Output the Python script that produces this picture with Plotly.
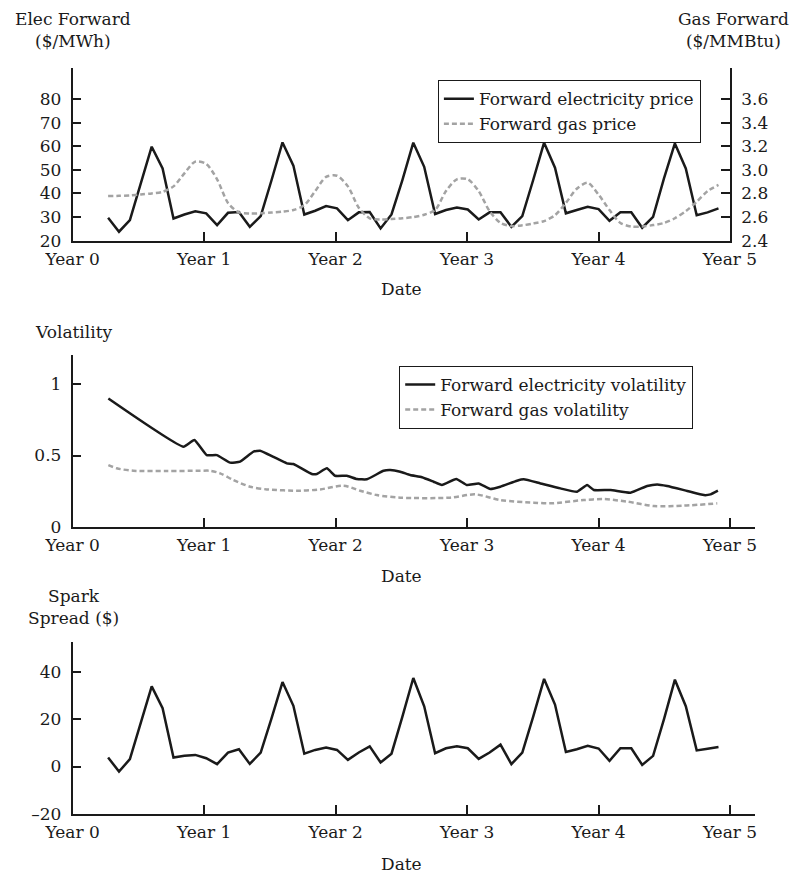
import plotly.graph_objects as go

# * monthly forward curve (years after Year 0)
t0 = 0.27
step = 0.0829
n_months = 57

elec_price = [29.7, 23.8, 28.7, 44.0, 59.8, 50.6, 29.4, 31.1, 32.5, 31.6,
              26.6, 31.8, 32.1, 25.9, 30.4, 45.7, 61.6, 51.8, 31.1, 32.7,
              34.7, 33.7, 28.7, 32.0, 32.1, 25.2, 31.1, 45.7, 61.5, 51.3,
              31.3, 33.0, 34.0, 33.2, 29.0, 32.0, 32.0, 25.9, 30.4, 45.7,
              61.5, 50.9, 31.6, 33.0, 34.4, 33.4, 28.4, 32.0, 32.0, 25.5,
              30.1, 46.4, 61.2, 50.6, 30.8, 32.0, 33.7]

gas_price = [2.778, 2.780, 2.784, 2.792, 2.800, 2.814, 2.860, 2.970, 3.070, 3.050,
             2.920, 2.720, 2.640, 2.630, 2.632, 2.638, 2.646, 2.660, 2.700, 2.820,
             2.940, 2.950, 2.860, 2.680, 2.590, 2.580, 2.584, 2.590, 2.600, 2.620,
             2.660, 2.820, 2.920, 2.920, 2.820, 2.650, 2.550, 2.524, 2.530, 2.546,
             2.566, 2.616, 2.720, 2.840, 2.890, 2.790, 2.660, 2.550, 2.520, 2.520,
             2.532, 2.550, 2.590, 2.650, 2.730, 2.820, 2.872]

spark_spread = [3.8, -2.1, 3.1, 18.0, 33.8, 24.6, 3.8, 4.5, 4.9, 3.5,
                1.0, 5.9, 7.3, 1.1, 5.9, 20.4, 35.6, 25.6, 5.4, 7.0,
                8.0, 7.0, 2.8, 5.9, 8.5, 1.7, 5.4, 21.0, 37.3, 25.4,
                5.6, 7.7, 8.5, 7.7, 3.2, 5.9, 9.2, 1.0, 5.9, 21.0,
                36.9, 26.1, 6.1, 7.3, 8.7, 7.6, 2.4, 7.7, 7.7, 0.7,
                4.5, 20.0, 36.6, 25.4, 6.8, 7.5, 8.2]

# * volatility term structures
elec_vol_t = [0.272, 0.843, 0.926, 1.020, 1.097, 1.198, 1.274, 1.376, 1.426, 1.528,
              1.629, 1.680, 1.819, 1.857, 1.934, 1.997, 2.086, 2.162, 2.238, 2.365,
              2.416, 2.492, 2.568, 2.657, 2.745, 2.809, 2.918, 2.999, 3.088, 3.177,
              3.253, 3.380, 3.431, 3.558, 3.710, 3.837, 3.913, 3.964, 4.091, 4.243,
              4.370, 4.446, 4.522, 4.675, 4.802, 4.852, 4.908]
elec_vol = [0.900, 0.562, 0.609, 0.503, 0.503, 0.450, 0.457, 0.527, 0.534, 0.490,
            0.445, 0.440, 0.370, 0.370, 0.410, 0.358, 0.358, 0.335, 0.333, 0.393,
            0.398, 0.386, 0.363, 0.347, 0.316, 0.293, 0.335, 0.293, 0.304, 0.265,
            0.281, 0.323, 0.333, 0.304, 0.269, 0.246, 0.293, 0.258, 0.258, 0.239,
            0.286, 0.297, 0.286, 0.251, 0.222, 0.227, 0.253]

gas_vol_t = [0.272, 0.336, 0.462, 0.716, 0.969, 1.046, 1.122, 1.223, 1.350, 1.477,
             1.730, 1.883, 2.060, 2.187, 2.314, 2.492, 2.872, 3.063, 3.253, 3.507,
             3.634, 3.887, 4.040, 4.218, 4.421, 4.649, 4.903]
gas_vol = [0.433, 0.410, 0.393, 0.391, 0.393, 0.393, 0.375, 0.328, 0.281, 0.262,
           0.253, 0.262, 0.288, 0.253, 0.222, 0.204, 0.204, 0.227, 0.187, 0.169,
           0.164, 0.187, 0.194, 0.176, 0.145, 0.148, 0.164]

year_vals = [0, 1, 2, 3, 4, 5]
year_text = ["Year 0", "Year 1", "Year 2", "Year 3", "Year 4", "Year 5"]

t = [t0 + m * step for m in range(n_months)]

FONT = "DejaVu Serif"
FS = 17
# * page body has an 8px margin, so the figure is shifted by OFF
OFF = 8
W, H = 791, 868
BLACK = "#1a1a1a"
GREY = "#a3a3a3"


def px_x(p):
    return (p - OFF) / W


def px_y(p):
    return 1 - (p - OFF) / H


fig = go.Figure()

fig.add_trace(go.Scatter(x=t, y=elec_price, name="Forward electricity price", mode="lines",
                         line=dict(color=BLACK, width=2.5), xaxis="x", yaxis="y", legend="legend"))
fig.add_trace(go.Scatter(x=t, y=gas_price, name="Forward gas price", mode="lines",
                         line=dict(color=GREY, width=2.5, dash="5px,3px", shape="spline", smoothing=0.8),
                         xaxis="x", yaxis="y2", legend="legend"))
fig.add_trace(go.Scatter(x=elec_vol_t, y=elec_vol, name="Forward electricity volatility", mode="lines",
                         line=dict(color=BLACK, width=2.5, shape="spline", smoothing=0.4),
                         xaxis="x2", yaxis="y3", legend="legend2"))
fig.add_trace(go.Scatter(x=gas_vol_t, y=gas_vol, name="Forward gas volatility", mode="lines",
                         line=dict(color=GREY, width=2.5, dash="5px,3px", shape="spline", smoothing=0.8),
                         xaxis="x2", yaxis="y3", legend="legend2"))
fig.add_trace(go.Scatter(x=t, y=spark_spread, name="Spark spread", mode="lines",
                         line=dict(color=BLACK, width=2.5), xaxis="x3", yaxis="y4", showlegend=False))

axis_common = dict(showline=True, linecolor=BLACK, linewidth=1.6, ticks="inside", ticklen=9,
                   tickwidth=1.5, tickcolor=BLACK, showgrid=False, zeroline=False,
                   tickfont=dict(family=FONT, size=FS, color=BLACK), automargin=False)

xdom_top = [px_x(72.6), px_x(730)]
xdom = [px_x(72.6), px_x(755)]

fig.update_layout(
    width=W, height=H,
    margin=dict(l=0, r=0, t=0, b=0),
    plot_bgcolor="white", paper_bgcolor="white",
    font=dict(family=FONT, size=FS, color=BLACK),
    xaxis=dict(domain=xdom_top, range=[0, 5], tickvals=year_vals, ticktext=year_text,
               anchor="y", ticklabelstandoff=2, **axis_common),
    yaxis=dict(domain=[px_y(240.7), px_y(68.3)], range=[20, 93], tickvals=[20, 30, 40, 50, 60, 70, 80],
               anchor="x", ticklabelstandoff=6, **axis_common),
    yaxis2=dict(range=[2.4, 3.86], tickvals=[2.4, 2.6, 2.8, 3.0, 3.2, 3.4, 3.6], tickformat=".1f",
                overlaying="y", side="right", anchor="x", ticklabelstandoff=6, **axis_common),
    xaxis2=dict(domain=xdom, range=[0, 5.19], tickvals=year_vals, ticktext=year_text,
                anchor="y3", ticklabelstandoff=2, **axis_common),
    yaxis3=dict(domain=[px_y(526.7), px_y(355)], range=[0, 1.206], tickvals=[0, 0.5, 1],
                ticktext=["0", "0.5", "1"], anchor="x2", ticklabelstandoff=6, **axis_common),
    xaxis3=dict(domain=xdom, range=[0, 5.19], tickvals=year_vals, ticktext=year_text,
                anchor="y4", ticklabelstandoff=2, **axis_common),
    yaxis4=dict(domain=[px_y(814), px_y(641.7)], range=[-20, 52.6], tickvals=[-20, 0, 20, 40],
                ticktext=["\u201320", "0", "20", "40"], anchor="x3", ticklabelstandoff=6, **axis_common),
    legend=dict(x=px_x(437.7), y=px_y(80), xanchor="left", yanchor="top", bordercolor=BLACK,
                borderwidth=1.2, bgcolor="white", font=dict(family=FONT, size=FS, color=BLACK),
                itemwidth=30, tracegroupgap=0),
    legend2=dict(x=px_x(399), y=px_y(365.7), xanchor="left", yanchor="top", bordercolor=BLACK,
                 borderwidth=1.2, bgcolor="white", font=dict(family=FONT, size=FS, color=BLACK),
                 itemwidth=30, tracegroupgap=0),
)

# * axis titles as free text
titles = [
    ("Elec Forward<br>($/MWh)", 72.6, 30),
    ("Gas Forward<br>($/MMBtu)", 733, 30),
    ("Date", 401, 289),
    ("Volatility", 73, 332),
    ("Date", 401, 576),
    ("Spark<br>Spread ($)", 73, 607),
    ("Date", 401, 864),
]
for text, xp, yp in titles:
    fig.add_annotation(text=text, x=px_x(xp), y=px_y(yp), xref="paper", yref="paper",
                       xanchor="center", yanchor="middle", showarrow=False,
                       font=dict(family=FONT, size=FS, color=BLACK))

fig.write_html("out.html")
